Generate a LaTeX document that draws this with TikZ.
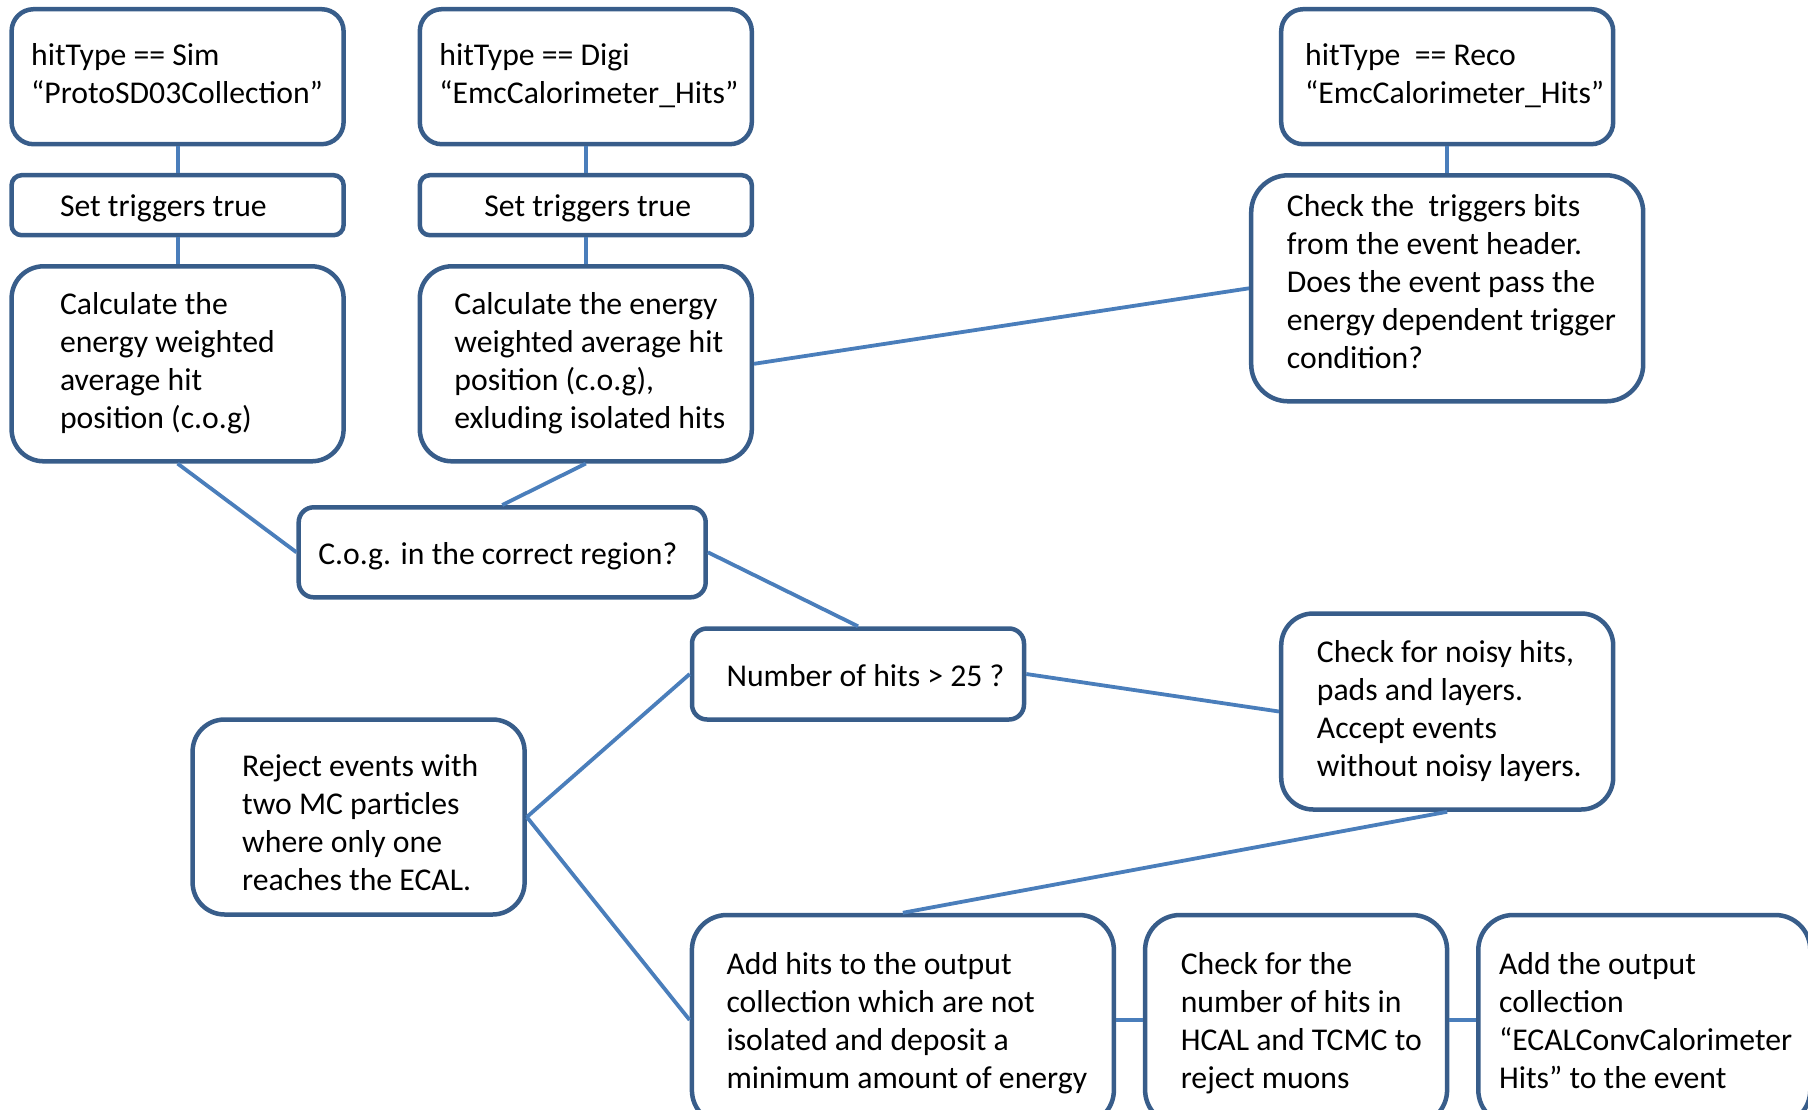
\documentclass[tikz,border=0pt]{standalone}
\usepackage{fontspec}
\setmainfont{Carlito}
\definecolor{boxc}{HTML}{385D8A}
\definecolor{linec}{HTML}{4A7EBB}
\newcommand{\bxt}[4][0]{\makebox[#2pt][l]{\hspace*{#3pt}\raisebox{-#1pt}[\height][\depth]{\begin{tabular}{@{}l@{}}#4\end{tabular}}}}
\tikzset{
  bx/.style={draw=boxc, line width=4.5pt, fill=white, inner sep=0pt, font=\fontsize{31.7}{38}\selectfont},
  conn/.style={draw=linec, line width=3.8pt}
}
\begin{document}
\begin{tikzpicture}[x=1pt,y=-1pt]
\useasboundingbox (0,0) rectangle (1808,1109);
\clip (0,0) rectangle (1808,1109);
\node[bx, minimum height=135pt, rounded corners=22pt] (sim) at (177.6,76.7) {\bxt{332}{19.6}{hitType == Sim\\“ProtoSD03Collection”}};
\node[bx, minimum height=60pt, rounded corners=10pt] (seta) at (177.6,205.2) {\bxt[3.5]{332}{48.4}{Set triggers true}};
\node[bx, minimum height=195pt, rounded corners=32pt] (calca) at (177.6,363.8) {\bxt{332}{48.4}{Calculate the\\energy weighted\\average hit\\position (c.o.g)}};
\node[bx, minimum height=135pt, rounded corners=22pt] (digi) at (585.8,76.7) {\bxt{332}{19.6}{hitType == Digi\\“EmcCalorimeter\_Hits”}};
\node[bx, minimum height=60pt, rounded corners=10pt] (setb) at (585.8,205.2) {\bxt[3.5]{332}{64.6}{Set triggers true}};
\node[bx, minimum height=195pt, rounded corners=32pt] (calcb) at (585.8,363.8) {\bxt{332}{34.6}{Calculate the energy\\weighted average hit\\position (c.o.g),\\exluding isolated hits}};
\node[bx, minimum height=135pt, rounded corners=22pt] (reco) at (1447.2,76.7) {\bxt{332}{24}{hitType \ == Reco\\“EmcCalorimeter\_Hits”}};
\node[bx, minimum height=226pt, rounded corners=37pt] (check) at (1447.2,288.3) {\bxt[-3.5]{392}{35.7}{Check the \ triggers bits\\from the event header.\\Does the event pass the\\energy dependent trigger\\condition?}};
\node[bx, minimum height=90pt, rounded corners=15pt] (cog) at (502.2,552.3) {\bxt[4.6]{407}{19.6}{C.o.g. in the correct region?}};
\node[bx, minimum height=91pt, rounded corners=15pt] (num) at (858,674) {\bxt[4.6]{332}{34.6}{Number of hits > 25 ?}};
\node[bx, minimum height=196pt, rounded corners=32pt] (noisy) at (1447.2,711.5) {\bxt{332}{35.7}{Check for noisy hits,\\pads and layers.\\Accept events\\without noisy layers.}};
\node[bx, minimum height=195pt, rounded corners=32pt] (reject) at (358.6,817) {\bxt[9.2]{332}{49.6}{Reject events with\\two MC particles\\where only one\\reaches the ECAL.}};
\node[bx, minimum height=210pt, rounded corners=35pt] (add) at (902.9,1020) {\bxt[3.5]{422}{34.6}{Add hits to the output\\collection which are not\\isolated and deposit a\\minimum amount of energy}};
\node[bx, minimum height=210pt, rounded corners=35pt] (muon) at (1296.1,1020) {\bxt[3.5]{302}{35.7}{Check for the\\number of hits in\\HCAL and TCMC to\\reject muons}};
\node[bx, minimum height=210pt, rounded corners=35pt] (out) at (1644.3,1020) {\bxt[3.5]{332}{20.8}{Add the output\\collection\\“ECALConvCalorimeter\\Hits” to the event}};
\draw[conn] (sim.south) -- (seta.north);
\draw[conn] (seta.south) -- (calca.north);
\draw[conn] (digi.south) -- (setb.north);
\draw[conn] (setb.south) -- (calcb.north);
\draw[conn] (reco.south) -- (check.north);
\draw[conn] (calca.south) -- (cog.west);
\draw[conn] (calcb.south) -- (cog.north);
\draw[conn] (calcb.east) -- (check.west);
\draw[conn] (cog.east) -- (num.north);
\draw[conn] (num.east) -- (noisy.west);
\draw[conn] (num.west) -- (reject.east);
\draw[conn] (reject.east) -- (add.west);
\draw[conn] (noisy.south) -- (add.north);
\draw[conn] (add.east) -- (muon.west);
\draw[conn] (muon.east) -- (out.west);
\end{tikzpicture}
\end{document}
